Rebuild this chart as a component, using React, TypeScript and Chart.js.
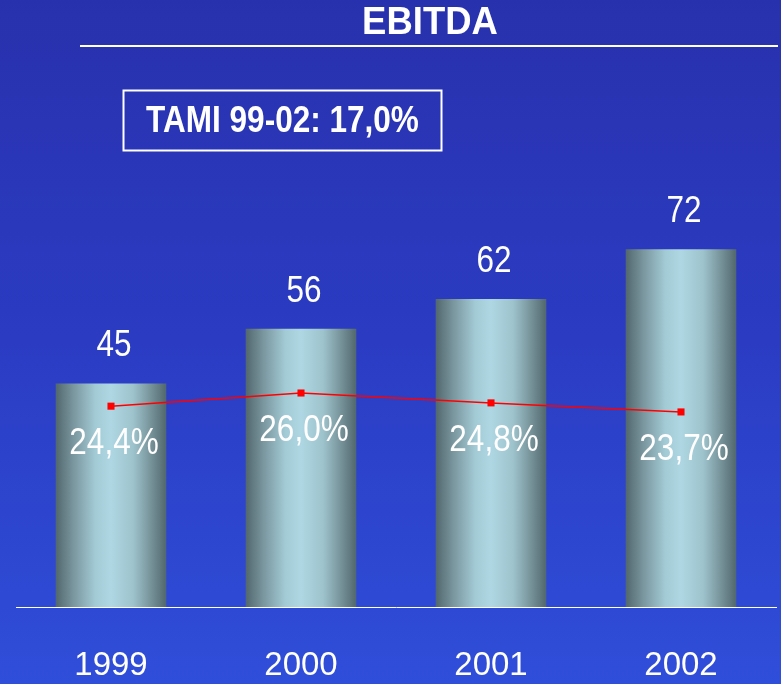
import React, { useEffect, useRef } from "react";
import { Chart, registerables } from "chart.js";

Chart.register(...registerables);

const years = ["1999", "2000", "2001", "2002"];
const ebitda = [45, 56, 62, 72];
const margin = [24.4, 26.0, 24.8, 23.7];
const marginLabels = ["24,4%", "26,0%", "24,8%", "23,7%"];
const titleText = "EBITDA";
const boxText = "TAMI 99-02: 17,0%";

const FONT = '"Liberation Sans", Arial, sans-serif';
const BAR_PCT = 0.582;

function condensedText(ctx: CanvasRenderingContext2D, text: string, x: number, y: number, sx: number) {
  ctx.save();
  ctx.translate(x, y);
  ctx.scale(sx, 1);
  ctx.fillText(text, 0, 0);
  ctx.restore();
}

export default function App() {
  const ref = useRef<HTMLCanvasElement | null>(null);

  useEffect(() => {
    const canvas = ref.current;
    if (!canvas) return;

    const bgPlugin = {
      id: "bg",
      beforeDraw(chart: any) {
        const { ctx, width, height } = chart;
        const g = ctx.createLinearGradient(0, 0, 0, height);
        g.addColorStop(0, "#2831ad");
        g.addColorStop(0.5, "#2b3cc3");
        g.addColorStop(1, "#2f4ed9");
        ctx.save();
        ctx.fillStyle = g;
        ctx.fillRect(0, 0, width, height);
        ctx.restore();
      },
    };

    const decoPlugin = {
      id: "deco",
      afterDraw(chart: any) {
        const { ctx } = chart;
        ctx.save();
        ctx.fillStyle = "#ffffff";
        ctx.strokeStyle = "#ffffff";
        ctx.textAlign = "center";
        ctx.textBaseline = "middle";
        ctx.font = `bold 38px ${FONT}`;
        condensedText(ctx, titleText, 430, 24, 0.96);
        ctx.lineWidth = 2;
        ctx.beginPath();
        ctx.moveTo(80, 46);
        ctx.lineTo(778, 46);
        ctx.stroke();
        ctx.strokeRect(123.5, 90.5, 318, 60);
        ctx.font = `bold 36px ${FONT}`;
        condensedText(ctx, boxText, 282.5, 122.5, 0.876);
        ctx.restore();
      },
      afterDatasetsDraw(chart: any) {
        const { ctx } = chart;
        ctx.save();
        ctx.fillStyle = "#ffffff";
        ctx.textAlign = "center";
        ctx.textBaseline = "middle";
        ctx.font = `36px ${FONT}`;
        const barMeta = chart.getDatasetMeta(0);
        barMeta.data.forEach((el: any, i: number) => {
          condensedText(ctx, String(ebitda[i]), el.x + 3, el.y - 37, 0.875);
        });
        const lineMeta = chart.getDatasetMeta(1);
        lineMeta.data.forEach((el: any, i: number) => {
          condensedText(ctx, marginLabels[i], el.x + 3, el.y + 38, 0.875);
        });
        ctx.restore();
      },
    };

    const chart = new Chart(canvas, {
      type: "bar",
      data: {
        labels: years,
        datasets: [
          {
            type: "bar",
            data: ebitda,
            yAxisID: "y",
            order: 2,
            barPercentage: BAR_PCT,
            categoryPercentage: 1,
            borderWidth: 0,
            backgroundColor: (c: any) => {
              const ch = c.chart;
              const area = ch.chartArea;
              if (!area || c.type !== "data") return "#8fb3bd";
              const x = ch.scales.x.getPixelForValue(c.dataIndex);
              const w = ((area.right - area.left) / years.length) * BAR_PCT;
              const g = ch.ctx.createLinearGradient(x - w / 2, 0, x + w / 2, 0);
              g.addColorStop(0, "#52676e");
              g.addColorStop(0.16, "#7a969e");
              g.addColorStop(0.36, "#a3cbd6");
              g.addColorStop(0.5, "#aed7e3");
              g.addColorStop(0.7, "#9ec3cc");
              g.addColorStop(0.86, "#77939a");
              g.addColorStop(1, "#52676e");
              return g;
            },
          } as any,
          {
            type: "line",
            data: margin,
            yAxisID: "y2",
            order: 1,
            borderColor: "#ff0000",
            borderWidth: 1.5,
            pointStyle: "rect",
            pointRadius: 5,
            pointBackgroundColor: "#ff0000",
            pointBorderColor: "#ff0000",
            pointBorderWidth: 0,
            tension: 0,
          } as any,
        ],
      },
      options: {
        animation: false,
        responsive: false,
        devicePixelRatio: 1,
        layout: { padding: { left: 16, right: 2, top: 207, bottom: 0 } },
        plugins: {
          legend: { display: false },
          tooltip: { enabled: false },
          title: { display: false },
        },
        scales: {
          x: {
            grid: { display: false, drawTicks: false },
            border: { display: true, color: "#ffffff", width: 1 },
            ticks: {
              color: "#ffffff",
              font: { family: FONT, size: 33 },
              padding: 39,
              maxRotation: 0,
            },
            afterFit: (s: any) => {
              s.height = 77;
            },
          },
          y: { display: false, min: 0, max: 80.5 },
          y2: { display: false, min: 0, max: 48.6 },
        },
      },
      plugins: [bgPlugin, decoPlugin],
    });

    return () => chart.destroy();
  }, []);

  return (
    <div style={{ position: "fixed", left: 0, top: 0, width: 781, height: 684 }}>
      <canvas ref={ref} width={781} height={684} />
    </div>
  );
}
